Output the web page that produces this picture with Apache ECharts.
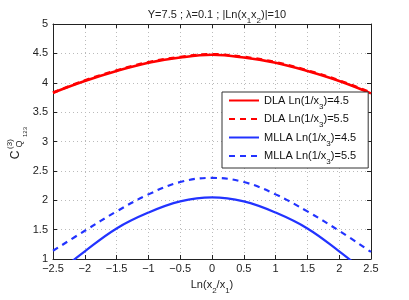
<!DOCTYPE html>
<html><head><meta charset="utf-8">
<script src="https://cdn.jsdelivr.net/npm/echarts@6/dist/echarts.min.js"></script>
<style>html,body{margin:0;padding:0;background:#fff}#c{width:409px;height:300px}</style>
</head><body><div id="c"></div>
<script>
const xVals = [-2.5, -2, -1.5, -1, -0.5, 0, 0.5, 1, 1.5, 2, 2.5];
const dla45 = [3.83, 4.03, 4.20, 4.34, 4.43, 4.475, 4.43, 4.34, 4.20, 4.03, 3.82];
const dla55 = [3.83, 4.04, 4.21, 4.35, 4.44, 4.485, 4.44, 4.35, 4.21, 4.04, 3.83];
const mlla45 = [0.70, 1.13, 1.52, 1.79, 1.98, 2.05, 1.98, 1.79, 1.52, 1.13, 0.70];
const mlla55 = [1.14, 1.48, 1.81, 2.10, 2.31, 2.38, 2.31, 2.10, 1.81, 1.48, 1.12];
const seriesNames = ['DLA Ln(1/x3)=4.5', 'DLA Ln(1/x3)=5.5', 'MLLA Ln(1/x3)=4.5', 'MLLA Ln(1/x3)=5.5'];

const FONT = 'Liberation Sans, Arial, Helvetica, sans-serif';
const RED = '#ff0000', BLUE = '#2233ff';
const pairs = ys => xVals.map((x, i) => [x, ys[i]]);
const minus = v => String(v).replace('-', '\u2212');

const chart = echarts.init(document.getElementById('c'), null, {renderer: 'canvas'});
const grid = {left: 53, top: 24, right: 38, bottom: 34, show: false};
const tick = {show: true, inside: true, length: 4, lineStyle: {color: '#222'}};
const split = {show: true, lineStyle: {color: '#bbb', type: [1, 3], width: 1}};
const axisLine = {show: true, onZero: false, lineStyle: {color: '#222', width: 1}};
const lbl = {color: '#222', fontFamily: FONT, fontSize: 11};
const richA = {fontFamily: FONT, fontSize: 11, fontWeight: 'normal', color: '#222', lineHeight: 16, verticalAlign: 'middle'};
const richS = {fontFamily: FONT, fontSize: 8, fontWeight: 'normal', color: '#222', lineHeight: 16, verticalAlign: 'bottom', padding: [0, 0, -2, 0]};

function mk(name, data, color, dashed, width) {
  return {name, type: 'line', data: pairs(data), smooth: 0.4, symbol: 'none', clip: true,
    lineStyle: {color, width, type: dashed ? [6, 5] : 'solid'}, itemStyle: {color}, xAxisIndex: 0, yAxisIndex: 0};
}

chart.setOption({
  animation: false,
  backgroundColor: '#fff',
  title: {
    text: '{a|Y=7.5 ; λ=0.1 ; |Ln(x}{s|1}{a|x}{s|2}{a|)|=10}',
    left: 212, top: 2, textAlign: 'center',
    textStyle: {fontWeight: 'normal', rich: {a: richA, s: richS}}
  },
  grid,
  xAxis: [
    {type: 'value', min: -2.5, max: 2.5, interval: 0.5, axisLine, axisTick: tick, splitLine: split,
     axisLabel: {...lbl, margin: 4, formatter: v => minus(v)},
     name: '{a|Ln(x}{s|2}{a|/x}{s|1}{a|)}', nameLocation: 'middle', nameGap: 18,
     nameTextStyle: {rich: {a: richA, s: richS}}},
    {type: 'value', position: 'top', min: -2.5, max: 2.5, interval: 0.5, axisLine, axisTick: tick,
     splitLine: {show: false}, axisLabel: {show: false}}
  ],
  yAxis: [
    {type: 'value', min: 1, max: 5, interval: 0.5, axisLine, axisTick: tick, splitLine: split,
     axisLabel: {...lbl, margin: 5}},
    {type: 'value', position: 'right', min: 1, max: 5, interval: 0.5, axisLine, axisTick: tick,
     splitLine: {show: false}, axisLabel: {show: false}}
  ],
  legend: {
    orient: 'vertical', left: 222, top: 92, width: 148,
    backgroundColor: '#fff', borderColor: '#333', borderWidth: 1, borderRadius: 0,
    padding: [3, 12, 2, 6], itemGap: 3, itemWidth: 30, itemHeight: 13,
    itemStyle: {opacity: 0},
    data: seriesNames,
    formatter: n => n.replace(/^(.*)x3(.*)$/, '{a|$1x}{s|3}{a|$2}'),
    textStyle: {rich: {
      a: {fontFamily: FONT, fontSize: 11, color: '#111', lineHeight: 14, verticalAlign: 'middle'},
      s: {fontFamily: FONT, fontSize: 8, color: '#111', lineHeight: 14, verticalAlign: 'bottom', padding: [0, 0, -3, 0]}
    }}
  },
  graphic: [
    {type: 'text', x: 16, y: 155, rotation: Math.PI / 2,
     style: {text: 'C', fontFamily: FONT, fontSize: 12, fill: '#222', textAlign: 'center', textVerticalAlign: 'middle'}},
    {type: 'text', x: 10, y: 144, rotation: Math.PI / 2,
     style: {text: '(3)', fontFamily: FONT, fontSize: 8, fill: '#222', textAlign: 'center', textVerticalAlign: 'middle'}},
    {type: 'text', x: 20, y: 144, rotation: Math.PI / 2,
     style: {text: 'Q', fontFamily: FONT, fontSize: 9, fill: '#222', textAlign: 'center', textVerticalAlign: 'middle'}},
    {type: 'text', x: 25, y: 132, rotation: Math.PI / 2,
     style: {text: '123', fontFamily: FONT, fontSize: 6, fill: '#222', textAlign: 'center', textVerticalAlign: 'middle'}}
  ],
  series: [
    mk(seriesNames[0], dla45, RED, false, 2.5),
    mk(seriesNames[1], dla55, RED, true, 2.5),
    mk(seriesNames[2], mlla45, BLUE, false, 2.2),
    mk(seriesNames[3], mlla55, BLUE, true, 2.2)
  ]
});
</script></body></html>
